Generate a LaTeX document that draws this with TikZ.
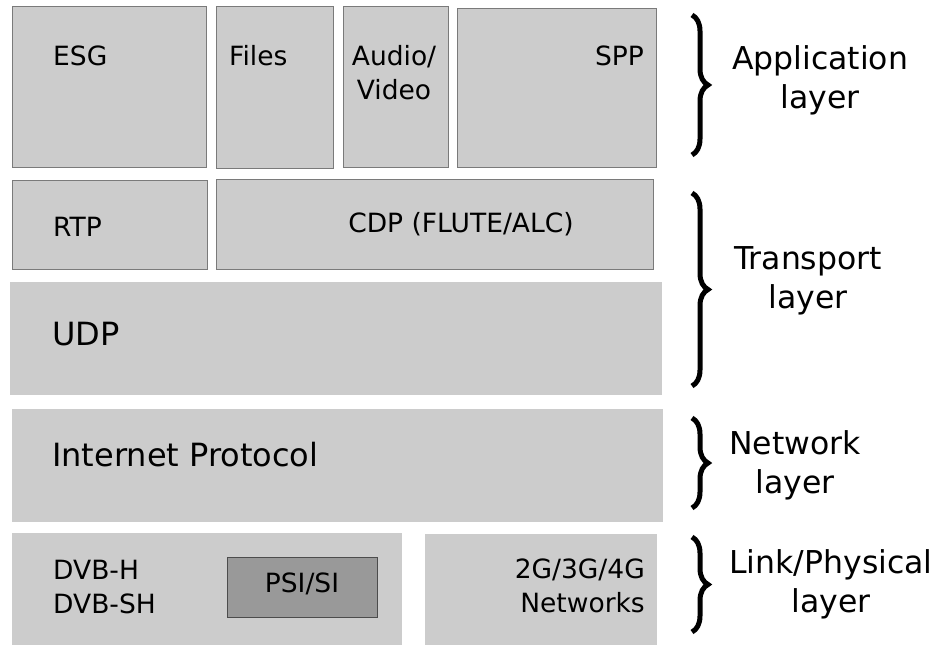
\documentclass[tikz,border=0pt]{standalone}
\usepackage{fontspec}
\setmainfont{DejaVu Sans}
\usetikzlibrary{decorations.pathreplacing}
\definecolor{boxgray}{HTML}{CCCCCC}
\definecolor{psigray}{HTML}{999999}
\definecolor{edgegray}{HTML}{7A7A7A}
\tikzset{every node/.style={font=\fontsize{26.5}{34}\selectfont,inner sep=0pt},
 layerbox/.style={draw=edgegray,fill=boxgray,line width=.7pt,anchor=north west},
 plainbox/.style={fill=boxgray,anchor=north west},
 darkbox/.style={draw=black!70,fill=psigray,line width=.7pt,anchor=north west},
 biglabel/.style={font=\fontsize{32}{40}\selectfont},
 layerlabel/.style={font=\fontsize{31.5}{39}\selectfont,align=center,anchor=base},
 bracebar/.style={decorate,decoration={brace,amplitude=16pt,aspect=.5},line width=5pt}}
\begin{document}
\begin{tikzpicture}[x=1pt,y=-1pt]

\path[use as bounding box] (0,0) rectangle (940,647);
\node[layerbox,minimum width=194pt,minimum height=161pt] (esg) at (12,6) {};
\node[layerbox,minimum width=117pt,minimum height=162pt] (files) at (216,6) {};
\node[layerbox,minimum width=105pt,minimum height=161pt] (av) at (343,6) {};
\node[layerbox,minimum width=199pt,minimum height=159pt] (spp) at (457,8) {};
\node[layerbox,minimum width=195pt,minimum height=89pt] (rtp) at (12,180) {};
\node[layerbox,minimum width=437pt,minimum height=90pt] (cdp) at (216,179) {};
\node[plainbox,minimum width=652pt,minimum height=113pt] (udp) at (10,282) {};
\node[plainbox,minimum width=651pt,minimum height=113pt] (ip) at (12,409) {};
\node[plainbox,minimum width=390pt,minimum height=112pt] (dvb) at (12,533) {};
\node[darkbox,minimum width=150pt,minimum height=60pt] (psi) at (227,557) {};
\node[plainbox,minimum width=232pt,minimum height=111pt] (cell) at (425,534) {};

\node[anchor=base west] (esg-l) at (53,66) {ESG};
\node[anchor=base west] (files-l) at (229,66) {Files};
\node[anchor=base,align=center] (av-l) at (394,100) {Audio/\\Video};
\node[anchor=base east] (spp-l) at (644,66) {SPP};
\node[anchor=base west] (rtp-l) at (53,237) {RTP};
\node[anchor=base] (cdp-l) at (461,233) {CDP (FLUTE/ALC)};
\node[biglabel,anchor=base west] (udp-l) at (52,345) {UDP};
\node[biglabel,anchor=base west] (ip-l) at (52,466) {Internet Protocol};
\node[anchor=base west,align=left] (dvb-l) at (53,613) {DVB-H\\DVB-SH};
\node[anchor=base] (psi-l) at (302,592) {PSI/SI};
\node[anchor=base east,align=right] (cell-l) at (645,612) {2G/3G/4G\\Networks};

\coordinate (app-t) at (692,15);
\coordinate (app-b) at (692,155);
\coordinate (tr-t) at (692,193);
\coordinate (tr-b) at (692,386);
\coordinate (net-t) at (692,418);
\coordinate (net-b) at (692,508);
\coordinate (lnk-t) at (692,537);
\coordinate (lnk-b) at (692,632);
\draw[bracebar] (app-t) -- (app-b);
\draw[bracebar] (tr-t) -- (tr-b);
\draw[bracebar] (net-t) -- (net-b);
\draw[bracebar] (lnk-t) -- (lnk-b);

\node[layerlabel] (app-l) at (820,109) {Application\\layer};
\node[layerlabel] (tr-l) at (808,308) {Transport\\layer};
\node[layerlabel] (net-l) at (795,493) {Network\\layer};
\node[layerlabel] (lnk-l) at (831,612) {Link/Physical\\layer};

\end{tikzpicture}
\end{document}
